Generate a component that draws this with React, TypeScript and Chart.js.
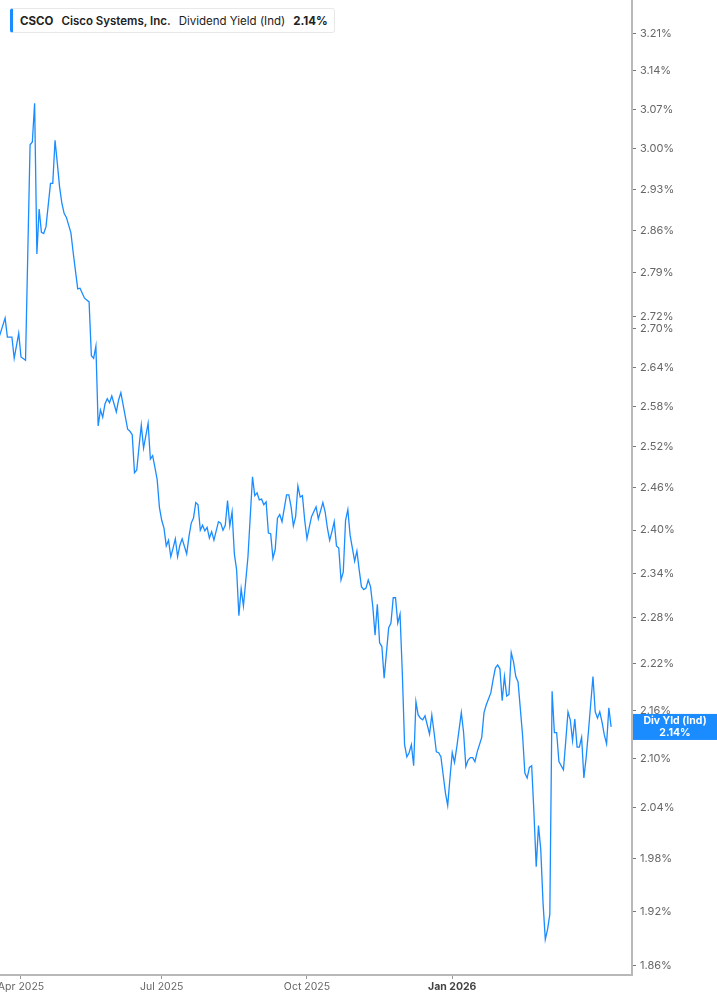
import { useEffect, useRef } from "react"
import { Chart, registerables } from "chart.js"

Chart.register(...registerables)

// trading sessions counted from 18 Mar 2025 (session 0)
const sessions = [
  0, 3, 4, 6, 7, 9, 10, 12, 14, 15, 16, 17, 18, 19, 20, 21, 23, 24, 25, 26,
  27, 28, 29, 30, 32, 33, 35, 36, 38, 40, 41, 42, 43, 44, 45, 46, 47, 48, 49, 50,
  52, 53, 54, 56, 57, 58, 59, 60, 61, 62, 63, 64, 66, 67, 68, 69, 70, 71, 72, 73,
  74, 75, 76, 77, 78, 79, 80, 81, 83, 84, 85, 86, 87, 88, 89, 90, 91, 92, 93, 94,
  95, 97, 98, 99, 100, 101, 102, 103, 104, 105, 106, 107, 108, 109, 110, 112, 113, 114, 115, 116,
  117, 118, 119, 120, 121, 122, 123, 124, 125, 127, 128, 129, 130, 131, 132, 133, 134, 135, 136, 137,
  138, 139, 140, 141, 143, 144, 145, 146, 147, 148, 149, 150, 151, 152, 153, 154, 155, 157, 158, 159,
  160, 161, 162, 163, 164, 165, 166, 167, 168, 169, 170, 172, 173, 174, 175, 176, 177, 178, 179, 180,
  181, 182, 183, 184, 185, 186, 187, 188, 190, 191, 192, 193, 194, 195, 196, 197, 198, 199, 200, 201,
  202, 204, 205, 206, 207, 208, 209, 210, 211, 213, 214, 215, 217, 218, 219, 220, 221, 222, 223, 224,
  225, 226, 227, 228, 229, 231, 232, 233, 234, 235, 236, 237, 238, 239, 240, 241, 242, 243, 244, 245,
  246, 247, 249, 250, 251, 252, 253, 254, 255, 256, 257, 258, 259, 260, 262, 263, 264, 265, 266, 267,
  268, 269, 270,
]

// dividend yield (%), one value per session above
const yieldValues = [
  2.683, 2.717, 2.687, 2.687, 2.654, 2.693, 2.656, 2.651, 3.007, 3.012, 3.081, 2.821, 2.896, 2.857, 2.855, 2.866, 2.94, 2.94, 3.015, 2.975,
  2.934, 2.906, 2.889, 2.882, 2.856, 2.823, 2.764, 2.765, 2.749, 2.743, 2.658, 2.654, 2.673, 2.551, 2.575, 2.564, 2.584, 2.592, 2.586, 2.596,
  2.572, 2.59, 2.601, 2.564, 2.546, 2.543, 2.538, 2.482, 2.486, 2.52, 2.552, 2.518, 2.555, 2.502, 2.507, 2.49, 2.472, 2.432, 2.414, 2.403,
  2.378, 2.386, 2.363, 2.375, 2.388, 2.363, 2.379, 2.388, 2.367, 2.391, 2.41, 2.417, 2.439, 2.436, 2.4, 2.407, 2.399, 2.404, 2.389, 2.398,
  2.386, 2.412, 2.41, 2.4, 2.407, 2.442, 2.406, 2.426, 2.367, 2.345, 2.283, 2.319, 2.296, 2.329, 2.363, 2.476, 2.449, 2.453, 2.443, 2.444,
  2.436, 2.44, 2.396, 2.395, 2.361, 2.373, 2.417, 2.422, 2.412, 2.45, 2.45, 2.433, 2.406, 2.419, 2.463, 2.447, 2.449, 2.414, 2.388, 2.404,
  2.419, 2.426, 2.433, 2.416, 2.439, 2.426, 2.403, 2.386, 2.398, 2.412, 2.378, 2.375, 2.331, 2.342, 2.414, 2.429, 2.393, 2.357, 2.371, 2.345,
  2.322, 2.318, 2.32, 2.331, 2.322, 2.295, 2.257, 2.298, 2.247, 2.242, 2.201, 2.267, 2.273, 2.307, 2.307, 2.273, 2.285, 2.208, 2.117, 2.102,
  2.107, 2.117, 2.091, 2.171, 2.154, 2.15, 2.148, 2.153, 2.13, 2.154, 2.132, 2.108, 2.107, 2.102, 2.08, 2.058, 2.043, 2.076, 2.107, 2.095,
  2.114, 2.157, 2.132, 2.09, 2.098, 2.101, 2.101, 2.096, 2.108, 2.126, 2.157, 2.167, 2.182, 2.199, 2.214, 2.218, 2.213, 2.172, 2.203, 2.178,
  2.18, 2.234, 2.222, 2.203, 2.196, 2.128, 2.082, 2.076, 2.089, 2.091, 2.034, 1.971, 2.019, 1.991, 1.93, 1.889, 1.9, 1.917, 2.184, 2.132,
  2.132, 2.096, 2.086, 2.121, 2.158, 2.148, 2.122, 2.149, 2.114, 2.114, 2.126, 2.076, 2.101, 2.133, 2.203, 2.158, 2.15, 2.158, 2.145, 2.129,
  2.118, 2.163, 2.139,
]

const xTickSessions = [10, 72, 136, 200]
const xTickLabels = ["Apr 2025", "Jul 2025", "Oct 2025", "Jan 2026"]
const yTickValues = [
  1.86, 1.92, 1.98, 2.04, 2.1, 2.16, 2.22, 2.28, 2.34, 2.4, 2.46, 2.52, 2.58, 2.64, 2.7, 2.72, 2.79, 2.86, 2.93, 3.0, 3.07, 3.14, 3.21,
]

const ticker = "CSCO"
const companyName = "Cisco Systems, Inc."
const seriesName = "Dividend Yield (Ind)"
const tagName = "Div Yld (Ind)"

const BLUE = "#1a8cff"
const FONT = "Inter, 'Noto Sans', sans-serif"

// etiqueta azul com o último valor, no eixo da direita
const lastValueTag = {
  id: "lastValueTag",
  afterDraw(chart: any) {
    const { ctx, chartArea, scales } = chart
    const last = yieldValues[yieldValues.length - 1]
    const y = scales.y.getPixelForValue(last)
    const left = chartArea.right + 1
    const w = chart.width - left
    ctx.save()
    ctx.fillStyle = BLUE
    ctx.fillRect(left, y - 13, w, 26)
    ctx.fillStyle = "#ffffff"
    ctx.font = `bold 10.5px ${FONT}`
    ctx.textAlign = "center"
    ctx.textBaseline = "middle"
    ctx.fillText(tagName, left + w / 2, y - 6)
    ctx.fillText(last.toFixed(2) + "%", left + w / 2, y + 6)
    ctx.restore()
  },
}

function YieldChart() {
  const chartRef = useRef<HTMLCanvasElement>(null)
  const chartInstance = useRef<Chart | null>(null)

  useEffect(() => {
    document.body.style.margin = "0"
    if (!chartRef.current) return
    if (chartInstance.current) chartInstance.current.destroy()

    const ctx = chartRef.current.getContext("2d")
    if (!ctx) return

    chartInstance.current = new Chart(ctx, {
      type: "line",
      data: {
        datasets: [
          {
            label: seriesName,
            data: sessions.map((s, i) => ({ x: s, y: yieldValues[i] })),
            borderColor: BLUE,
            borderWidth: 1.3,
            pointRadius: 0,
            tension: 0,
            fill: false,
          },
        ],
      },
      options: {
        responsive: true,
        maintainAspectRatio: false,
        animation: false,
        layout: { padding: 0 },
        plugins: {
          legend: { display: false },
          tooltip: { enabled: false },
        },
        scales: {
          x: {
            type: "linear",
            min: 0.75,
            max: 279.2,
            afterBuildTicks: (axis: any) => {
              axis.ticks = xTickSessions.map((v) => ({ value: v }))
            },
            afterFit: (axis: any) => {
              axis.height = 30
              axis.paddingLeft = 0
              axis.paddingRight = 0
            },
            border: { color: "#b8b8b8", width: 2 },
            grid: {
              drawOnChartArea: false,
              drawTicks: true,
              tickLength: 4,
              tickColor: "#999",
            },
            ticks: {
              padding: 2,
              maxRotation: 0,
              autoSkip: false,
              color: (c: any) => (c.index === 3 ? "#444" : "#666"),
              font: (c: any) => ({ family: FONT, size: 10.5, weight: c.index === 3 ? "bold" : "normal" }),
              callback: (_v: any, i: number) => xTickLabels[i],
            },
          },
          y: {
            type: "logarithmic",
            position: "right",
            min: 1.85,
            max: 3.273,
            afterBuildTicks: (axis: any) => {
              axis.ticks = yTickValues.map((v) => ({ value: v }))
            },
            afterFit: (axis: any) => {
              axis.width = 85
              axis.paddingTop = 0
              axis.paddingBottom = 0
            },
            border: { color: "#b8b8b8", width: 2 },
            grid: {
              drawOnChartArea: false,
              drawTicks: true,
              tickLength: 4,
              tickColor: "#777",
            },
            ticks: {
              padding: 4,
              autoSkip: false,
              color: "#666",
              font: { family: FONT, size: 11 },
              callback: (v: any) => Number(v).toFixed(2) + "%",
            },
          },
        },
      },
      plugins: [lastValueTag],
    })

    return () => {
      if (chartInstance.current) {
        chartInstance.current.destroy()
        chartInstance.current = null
      }
    }
  }, [])

  return <canvas ref={chartRef}></canvas>
}

export default function App() {
  return (
    <div style={{ position: "relative", width: 717, height: 1005, background: "#fff" }}>
      <YieldChart />
      <div
        style={{
          position: "absolute",
          left: 10,
          top: 8,
          height: 25,
          display: "flex",
          alignItems: "center",
          gap: 8,
          padding: "0 6px 0 7px",
          background: "#fff",
          border: "1px solid #e8e8e8",
          borderLeft: `3px solid ${BLUE}`,
          borderRadius: 3,
          fontFamily: FONT,
          fontSize: 11.5,
          color: "#222",
          whiteSpace: "nowrap",
          boxSizing: "border-box",
        }}
      >
        <span style={{ fontWeight: 700 }}>{ticker}</span>
        <span style={{ fontWeight: 600 }}>{companyName}</span>
        <span style={{ fontWeight: 400 }}>{seriesName}</span>
        <span style={{ fontWeight: 700 }}>{yieldValues[yieldValues.length - 1].toFixed(2) + "%"}</span>
      </div>
    </div>
  )
}
